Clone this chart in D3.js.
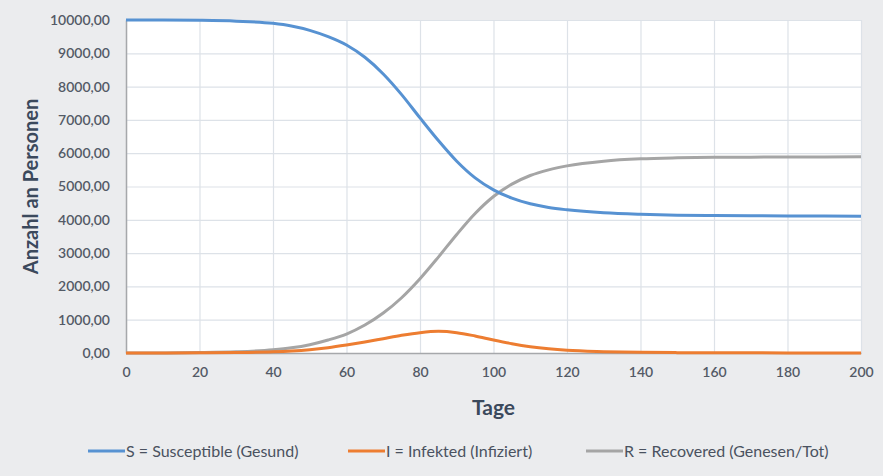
<!DOCTYPE html>
<meta charset="utf-8">
<style>
    body { margin: 0; background: #ebecee; }
    #chart { width: 883px; height: 476px; }
    text { font-family: Lato, "Open Sans", sans-serif; }
</style>
<script src="https://d3js.org/d3.v7.min.js"></script>
<div id="chart"></div>
<script>
    // values (days, persons)
    const tage = [0, 10, 20, 30, 40, 45, 50, 55, 60, 65, 70, 75, 80, 85, 90, 95, 100, 105, 110, 115, 120, 130, 140, 150, 160, 170, 180, 190, 200];
    const gesund = [10000, 9998, 9990, 9965, 9900, 9820, 9690, 9500, 9250, 8880, 8380, 7760, 7060, 6380, 5760, 5260, 4900, 4650, 4480, 4370, 4300, 4210, 4165, 4140, 4128, 4120, 4115, 4112, 4110];
    const infiziert = [0, 1, 4, 12, 35, 60, 100, 160, 240, 330, 430, 530, 610, 650, 610, 510, 390, 280, 190, 125, 80, 40, 20, 11, 7, 5, 3, 2, 2];
    const genesen = [0, 3, 12, 35, 95, 155, 250, 390, 570, 840, 1200, 1660, 2230, 2880, 3560, 4190, 4700, 5070, 5330, 5500, 5620, 5760, 5830, 5860, 5875, 5882, 5886, 5888, 5890];

    const serien = [
        { name: "S = Susceptible (Gesund)", werte: gesund, farbe: "#5792d2" },
        { name: "I = Infekted (Infiziert)", werte: infiziert, farbe: "#ed7d31" },
        { name: "R = Recovered (Genesen/Tot)", werte: genesen, farbe: "#a5a5a5" }
    ];
    const xTicks = d3.range(0, 201, 20);
    const yTicks = d3.range(0, 10001, 1000);

    const margin = {top: 20, right: 22, bottom: 123, left: 126},
        width = 883 - margin.left - margin.right,
        height = 476 - margin.top - margin.bottom;

    const svg = d3.select("#chart").append("svg")
        .attr("width", 883)
        .attr("height", 476);

    const g = svg.append("g")
        .attr("transform", `translate(${margin.left},${margin.top})`);

    const x = d3.scaleLinear().domain([0, 200]).range([0, width]);
    const y = d3.scaleLinear().domain([0, 10000]).range([height, 0]);

    // plot area
    g.append("rect")
        .attr("width", width)
        .attr("height", height)
        .attr("fill", "#fff");

    // gitter
    g.append("g")
        .call(d3.axisLeft(y).tickValues(yTicks).tickSize(-width).tickFormat(""))
        .call(a => a.select(".domain").remove())
        .selectAll("line").attr("stroke", "#dde2e8").attr("stroke-width", 1.2);
    g.append("g")
        .attr("transform", `translate(0,${height})`)
        .call(d3.axisBottom(x).tickValues(xTicks).tickSize(-height).tickFormat(""))
        .call(a => a.select(".domain").remove())
        .selectAll("line").attr("stroke", "#dde2e8").attr("stroke-width", 1.2);

    // achsen
    const fmt = d => d3.format(".2f")(d).replace(".", ",");
    const yAxis = g.append("g")
        .call(d3.axisLeft(y).tickValues(yTicks).tickSize(0).tickPadding(16).tickFormat(fmt));
    yAxis.select(".domain").attr("stroke", "#a6a8ab").attr("stroke-width", 1.5);
    yAxis.selectAll("text")
        .attr("font-size", 14).attr("fill", "#535a66").attr("font-weight", 600)
        .attr("font-family", "Lato, sans-serif");

    const xAxis = g.append("g")
        .attr("transform", `translate(0,${height})`)
        .call(d3.axisBottom(x).tickValues(xTicks).tickSize(0).tickPadding(14));
    xAxis.select(".domain").attr("stroke", "#a6a8ab").attr("stroke-width", 1.5);
    xAxis.selectAll("text")
        .attr("font-size", 14).attr("fill", "#535a66").attr("font-weight", 600)
        .attr("font-family", "Lato, sans-serif");

    // linien
    const line = d3.line()
        .x((d, i) => x(tage[i]))
        .y(d => y(d))
        .curve(d3.curveMonotoneX);

    // grau zuerst, dann orange, dann blau oben
    [serien[2], serien[1], serien[0]].forEach(s => {
        g.append("path")
            .datum(s.werte)
            .attr("fill", "none")
            .attr("stroke", s.farbe)
            .attr("stroke-width", 3)
            .attr("stroke-linejoin", "round")
            .attr("d", line);
    });

    // titel
    svg.append("text")
        .attr("transform", `translate(38,${margin.top + height / 2}) rotate(-90)`)
        .attr("text-anchor", "middle")
        .attr("font-size", 20)
        .attr("font-weight", 700)
        .attr("fill", "#3b495c")
        .text("Anzahl an Personen");

    svg.append("text")
        .attr("x", margin.left + width / 2)
        .attr("y", 415)
        .attr("text-anchor", "middle")
        .attr("font-size", 21)
        .attr("font-weight", 700)
        .attr("fill", "#3b495c")
        .text("Tage");

    // legende
    const legX = [88, 348, 586];
    const leg = svg.append("g");
    serien.forEach((s, i) => {
        leg.append("line")
            .attr("x1", legX[i]).attr("x2", legX[i] + 37)
            .attr("y1", 451).attr("y2", 451)
            .attr("stroke", s.farbe).attr("stroke-width", 3);
        leg.append("text")
            .attr("x", legX[i] + 38)
            .attr("y", 457)
            .attr("font-size", 16)
            .attr("fill", "#4a5260")
            .text(s.name);
    });
</script>
